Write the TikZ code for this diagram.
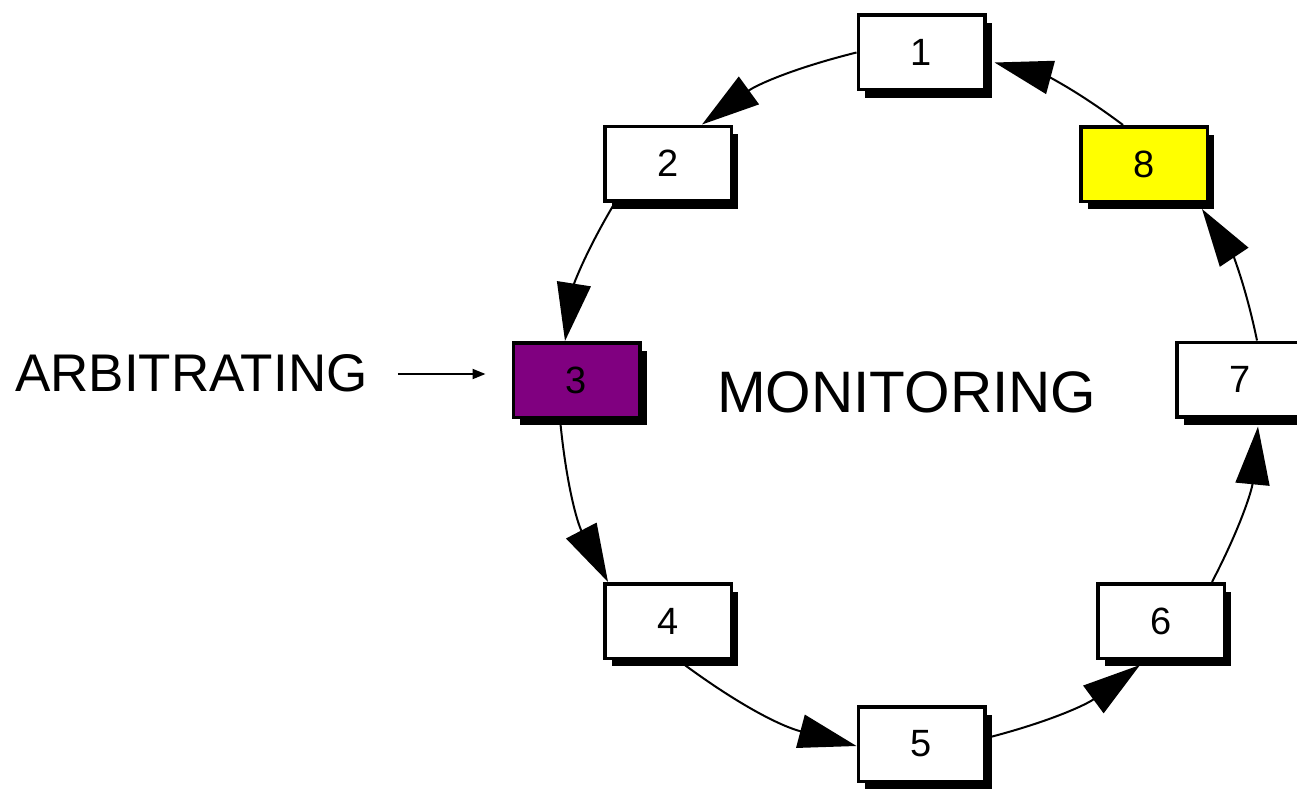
\documentclass[tikz,border=0pt]{standalone}
\usepackage{fontspec}
\setmainfont{Liberation Sans}
\usetikzlibrary{arrows.meta,shadows}
\definecolor{boxpurple}{HTML}{800080}
\definecolor{boxyellow}{HTML}{FFFF00}
\tikzset{
  ringbox/.style={draw=black, line width=3.5pt, fill=white, minimum width=126.5pt, minimum height=74.5pt,
    inner sep=0pt, font=\fontsize{38}{38}\selectfont,
    drop shadow={shadow xshift=7pt, shadow yshift=-8pt, fill=black, opacity=1}},
  ringarrow/.style={line width=2pt, -{Triangle[length=58pt,width=34pt]}, bend right=11},
  thinarrow/.style={line width=2pt, -{Triangle[length=13pt,width=10pt]}},
  bigtext/.style={anchor=base west, inner sep=0pt}
}
\begin{document}
\begin{tikzpicture}[x=1pt,y=-1pt]
\useasboundingbox (0,0) rectangle (1297,789);
% boxes
\node[ringbox] (n1) at (921.5,52.5) {1};
\node[ringbox] (n2) at (668,163.5) {2};
\node[ringbox, fill=boxpurple] (n3) at (576.5,380) {3};
\node[ringbox] (n4) at (668,621) {4};
\node[ringbox] (n5) at (921.5,744) {5};
\node[ringbox] (n6) at (1161,621) {6};
\node[ringbox] (n7) at (1240,379.5) {7};
\node[ringbox, fill=boxyellow] (n8) at (1144,164) {8};
% ring connectors
\draw[ringarrow] (n1.west) to ([xshift=34pt]n2.north);
\draw[ringarrow] ([xshift=-53pt]n2.south) to ([xshift=-11.5pt]n3.north);
\draw[ringarrow] ([xshift=-16.5pt]n3.south) to ([xshift=-60pt]n4.north);
\draw[ringarrow] ([xshift=10pt]n4.south) to ([yshift=-2pt]n5.west);
\draw[ringarrow] ([yshift=6pt]n5.east) to ([xshift=-21pt,yshift=-5pt]n6.south);
\draw[ringarrow] ([xshift=51pt]n6.north) to ([xshift=18pt,yshift=-8pt]n7.south);
\draw[ringarrow] ([xshift=17pt]n7.north) to ([xshift=58pt,yshift=-6pt]n8.south);
\draw[ringarrow] ([xshift=-21pt]n8.north) to ([xshift=8pt,yshift=-10pt]n1.east);
% labels
\node[bigtext, font=\fontsize{53}{53}\selectfont] (arb) at (15,391) {ARBITRATING};
\node[bigtext, font=\fontsize{58.5}{58.5}\selectfont] (mon) at (717,412) {MONITORING};
\coordinate (arbstart) at ([xshift=30pt]arb.east);
\coordinate (arbend) at ([xshift=-26pt,yshift=6pt]n3.west);
\draw[thinarrow] (arbstart |- arbend) -- (arbend);
\end{tikzpicture}
\end{document}
